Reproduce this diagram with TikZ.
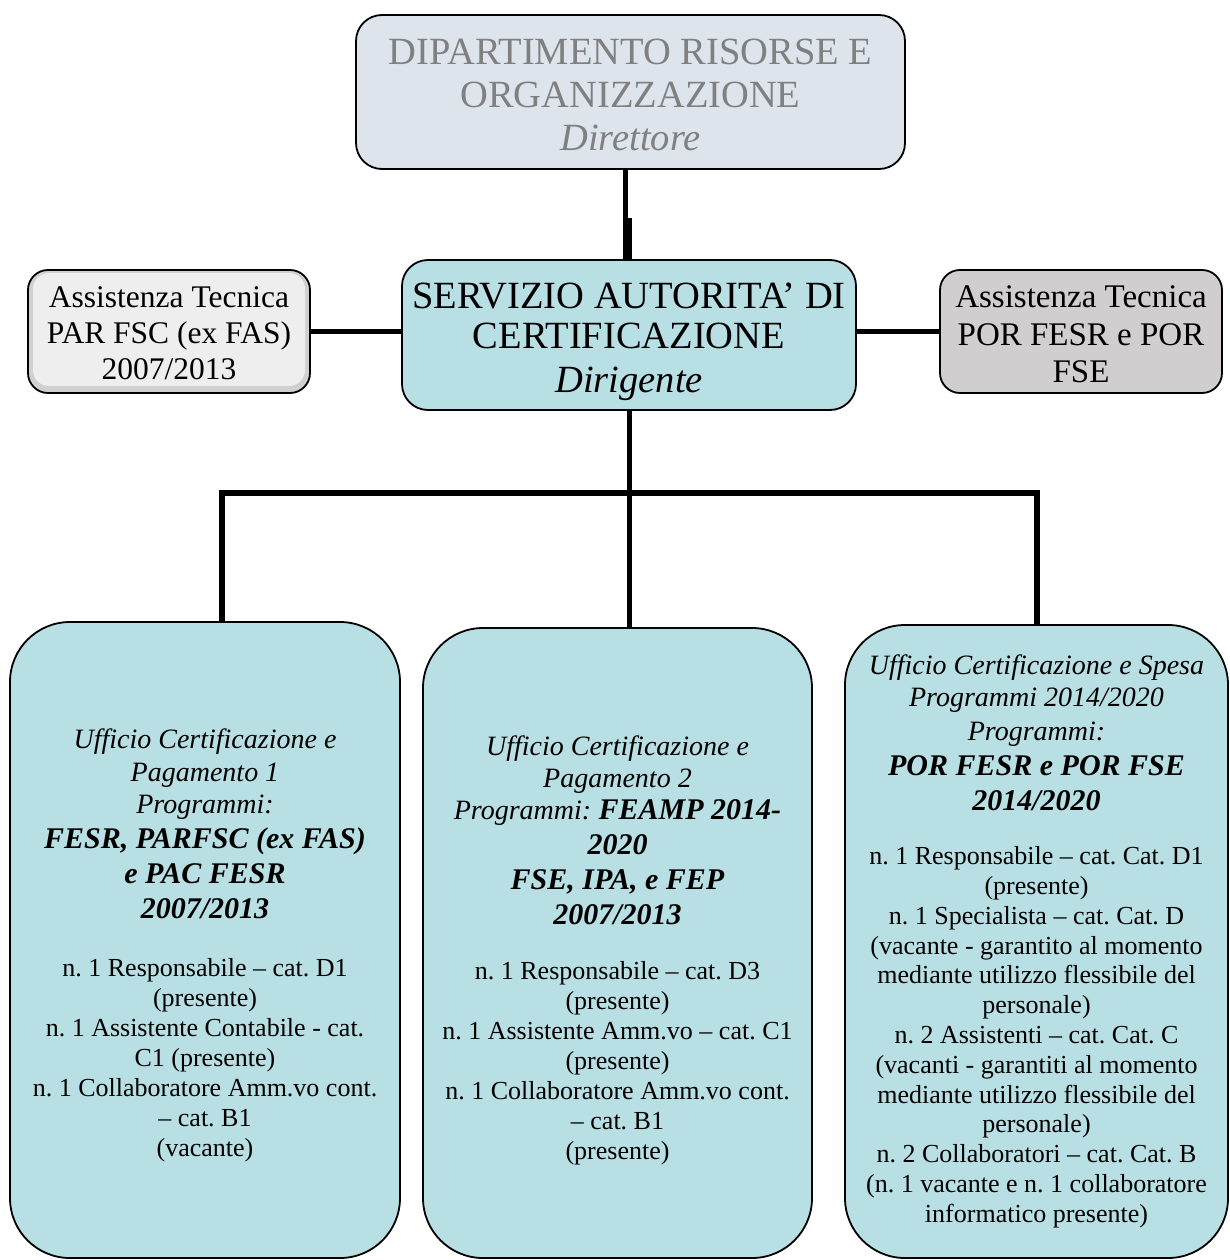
\documentclass[tikz,border=0pt]{standalone}
\usepackage{fontspec}
\setmainfont{Liberation Serif}
\frenchspacing
\definecolor{tealfill}{HTML}{B8DFE3}
\definecolor{topfill}{HTML}{DDE4EC}
\definecolor{topfont}{HTML}{808080}
\definecolor{grayfill}{HTML}{D0CECE}
\definecolor{lightinner}{HTML}{EEEEEE}
\definecolor{lightouter}{HTML}{D0D0D0}
\newcommand{\tstrut}[1]{\rule{0pt}{#1}}
\begin{document}
\begin{tikzpicture}[x=1pt,y=-1pt,
  box/.style={draw=black, line width=1.8pt, align=flush center, inner sep=0pt},
  conn/.style={line width=5.5pt},
]
\useasboundingbox (0,0) rectangle (1230,1260);

% top box
\node[box, fill=topfill, rounded corners=26pt, minimum width=549pt, minimum height=154pt,
      text width=540pt, text=topfont, font=\fontsize{38.5}{43}\selectfont] (top) at (630.5,92)
  {\tstrut{30.5pt}DIPARTIMENTO RISORSE E\\ORGANIZZAZIONE\\\textit{Direttore}};

% central box
\node[box, fill=tealfill, rounded corners=26pt, minimum width=454pt, minimum height=150pt,
      text width=445pt, font=\fontsize{38.5}{44}\selectfont] (center) at (629,335)
  {\tstrut{40pt}SERVIZIO AUTORITA’ DI\\[-4pt]CERTIFICAZIONE\\\textit{Dirigente}};

% left side box
\node[box, fill=lightouter, rounded corners=20pt, minimum width=282pt, minimum height=123pt,
      text width=275pt, font=\fontsize{31.5}{36}\selectfont,
      path picture={\fill[lightinner, rounded corners=16pt]
        ([shift={(5pt,-3pt)}]path picture bounding box.north west) rectangle
        ([shift={(-5pt,7pt)}]path picture bounding box.south east);}] (left) at (169,331.5)
  {\tstrut{25pt}Assistenza Tecnica\\PAR FSC (ex FAS)\\2007/2013};

% right side box
\node[box, fill=grayfill, rounded corners=20pt, minimum width=282pt, minimum height=123pt,
      text width=275pt, font=\fontsize{33}{37.5}\selectfont] (right) at (1081,331.5)
  {\tstrut{28pt}Assistenza Tecnica\\POR FESR e POR\\FSE};

% bottom boxes
\node[box, fill=tealfill, rounded corners=60pt, minimum width=390pt, minimum height=636pt,
      text width=380pt] (b1) at (205,940)
  {{\itshape\fontsize{28}{32.5}\selectfont\tstrut{31pt}Ufficio Certificazione e\\Pagamento 1\\Programmi:\par}
   {\bfseries\itshape\fontsize{30}{35}\selectfont FESR, PARFSC (ex FAS)\\e PAC FESR\hspace*{24pt}\\2007/2013\par}
   \vspace{28pt}
   {\fontsize{26}{30}\selectfont n. 1 Responsabile – cat. D1\\(presente)\\n. 1 Assistente Contabile - cat.\\C1 (presente)\\n. 1 Collaboratore Amm.vo cont.\\– cat. B1\\(vacante)\par}};

\node[box, fill=tealfill, rounded corners=60pt, minimum width=389pt, minimum height=630pt,
      text width=380pt] (b2) at (617.5,943)
  {{\itshape\fontsize{28}{32}\selectfont\tstrut{35pt}Ufficio Certificazione e\\Pagamento 2\\Programmi:{\bfseries\fontsize{30}{34.5}\selectfont\ FEAMP 2014-}\par}
   {\bfseries\itshape\fontsize{30}{35}\selectfont 2020\\FSE, IPA, e FEP\\2007/2013\par}
   \vspace{25pt}
   {\fontsize{26}{30}\selectfont n. 1 Responsabile – cat. D3\\(presente)\\n. 1 Assistente Amm.vo – cat. C1\\(presente)\\n. 1 Collaboratore Amm.vo cont.\\– cat. B1\\(presente)\par}};

\node[box, fill=tealfill, rounded corners=60pt, minimum width=383pt, minimum height=633pt,
      text width=378pt] (b3) at (1036.5,941.5)
  {{\itshape\fontsize{28}{32}\selectfont Ufficio Certificazione e Spesa\\Programmi 2014/2020\\[2pt]Programmi:\par}
   {\bfseries\itshape\fontsize{30}{35}\selectfont POR FESR e POR FSE\\2014/2020\par}
   \vspace{24pt}
   {\fontsize{26}{29.8}\selectfont n. 1 Responsabile – cat. Cat. D1\\(presente)\\n. 1 Specialista – cat. Cat. D\\(vacante - garantito al momento\\mediante utilizzo flessibile del\\personale)\\n. 2 Assistenti – cat. Cat. C\\(vacanti - garantiti al momento\\mediante utilizzo flessibile del\\personale)\\n. 2 Collaboratori – cat. Cat. B\\(n. 1 vacante e n. 1 collaboratore\\informatico presente)\par}};

% connectors
\coordinate (jog) at (629,218);
\coordinate (j) at (629.5,493);
\coordinate (hl) at (222,493);
\coordinate (hr) at (1037,493);

\draw[conn] ([xshift=-5pt]top.south) -- ([xshift=-5pt]top.south |- center.north);
\draw[conn] (jog) -- (jog |- center.north);
\draw[conn] (left.east) -- (left.east -| center.west);
\draw[conn] (right.west) -- (right.west -| center.east);
\draw[conn] (center.south -| j) -- (b2.north -| j);
\draw[conn] (b1.north -| hl) -- (hl) -- (hr) -- (b3.north -| hr);
\end{tikzpicture}
\end{document}
